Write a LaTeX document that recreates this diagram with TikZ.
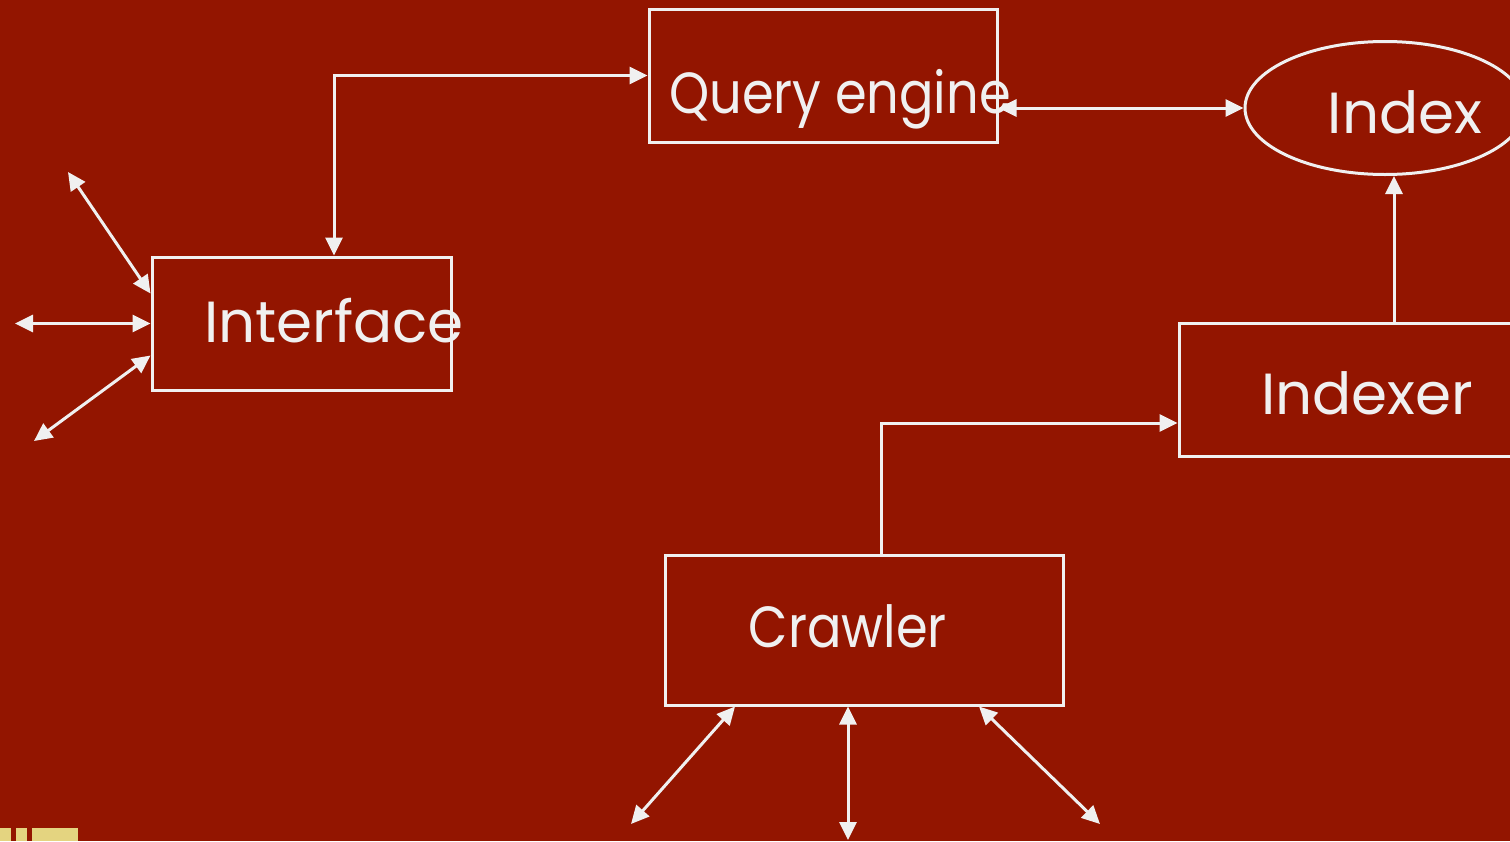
\documentclass[tikz,border=0pt]{standalone}
\usepackage{fontspec}
\setmainfont{Poppins}
\usetikzlibrary{arrows.meta,shapes.geometric,positioning,calc}
\definecolor{slidered}{RGB}{147,21,0}
\definecolor{lineclr}{RGB}{240,240,240}
\definecolor{cornery}{RGB}{228,212,128}

\begin{document}
\begin{tikzpicture}[x=1pt,y=-1pt,>={Triangle[length=18pt,width=17pt]},
  box/.style={draw=lineclr,line width=3pt,inner sep=0pt},
  lbl/.style={text=lineclr,anchor=base,font=\fontsize{58}{60}\selectfont},
  link/.style={draw=lineclr,line width=3pt}]
\useasboundingbox (0,0) rectangle (1510,841);
\fill[slidered] (0,0) rectangle (1510,841);
% corner of the slide decoration
\foreach \a/\b in {0/11,16/27,32/78}
   \fill[cornery] (\a,828) rectangle (\b,841);

% boxes
\node[box,minimum width=348pt,minimum height=133pt] (query) at (823,75.5) {};
\node[box,ellipse,minimum width=280pt,minimum height=133pt] (index) at (1385,108) {};
\node[box,minimum width=299pt,minimum height=133pt] (iface) at (301.5,323.5) {};
\node[box,minimum width=350pt,minimum height=133pt] (idxr) at (1354,389.5) {};
\node[box,minimum width=398pt,minimum height=150pt] (crawl) at (864,630) {};

% texts
\node[lbl] (query-t) at (840,113) {\scalebox{0.88}[1]{Query engine}};
\node[lbl] (index-t) at (1405,133) {Index};
\node[lbl] (iface-t) at (334,342) {Interface};
\node[lbl] (idxr-t) at (1367,414) {Indexer};
\node[lbl] (crawl-t) at (848,647) {\scalebox{0.88}[1]{Crawler}};

% connectors between components
\draw[link,<->] (query.west) -| ([xshift=32.5pt]iface.north);
\draw[link,<->] (index.west -| query.east) -- (index.west);
\draw[link,->] ([xshift=40pt]idxr.north) -- ([xshift=40pt]idxr.north |- index.south);
\draw[link,->] ([xshift=17pt]crawl.north) |- ([yshift=-33.5pt]idxr.west);

% outside world
\coordinate (u1) at (68,172);
\coordinate (u2) at (15,323.5);
\coordinate (u3) at (34,441);
\coordinate (w1) at (631,824);
\coordinate (w2) at (848,840);
\coordinate (w3) at (1100,824);
\foreach \dy/\c in {30/u1,0/u2,-32/u3}
   \draw[link,<->] ([yshift=\dy pt]iface.west) -- (\c);
\foreach \dx/\c in {-129/w1,-16/w2,115/w3}
   \draw[link,<->] ([xshift=\dx pt]crawl.south) -- (\c);
\end{tikzpicture}
\end{document}
